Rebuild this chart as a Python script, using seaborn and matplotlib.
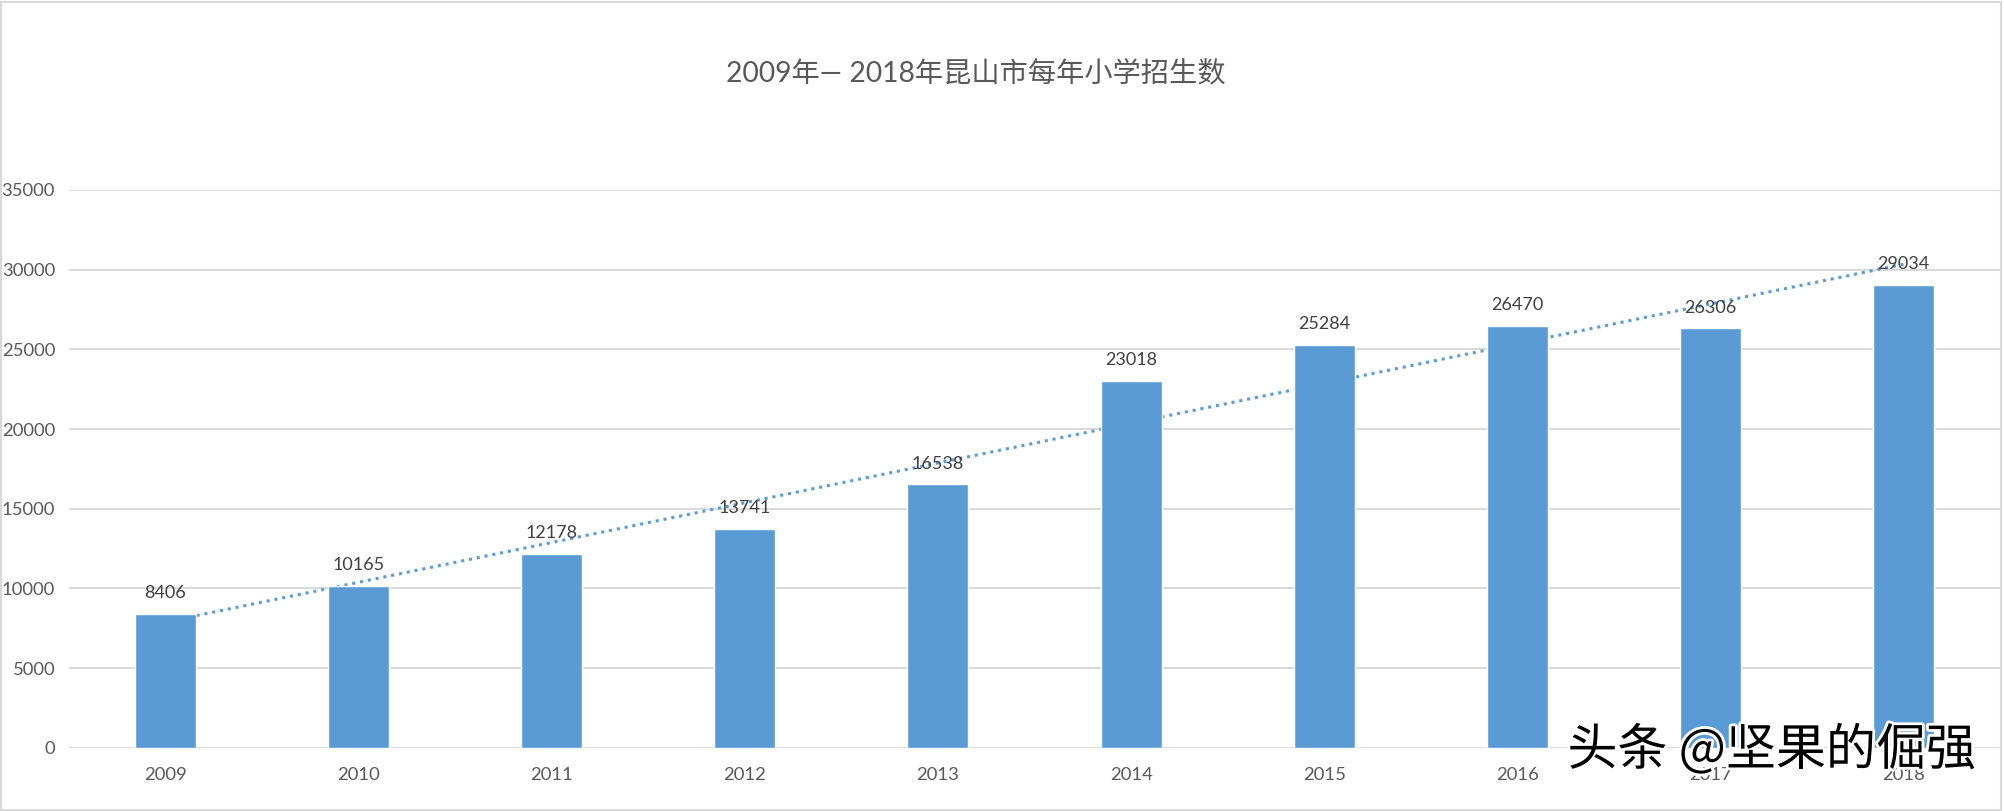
import numpy as np
import pandas as pd
import matplotlib
matplotlib.use("Agg")
import matplotlib.pyplot as plt
import matplotlib.patheffects as pe
from matplotlib.patches import Rectangle
import seaborn as sns

# data
years = ["2009", "2010", "2011", "2012", "2013", "2014", "2015", "2016", "2017", "2018"]
enrolment = [8406, 10165, 12178, 13741, 16538, 23018, 25284, 26470, 26306, 29034]
y_ticks = [0, 5000, 10000, 15000, 20000, 25000, 30000, 35000]

title = "2009年— 2018年昆山市每年小学招生数"
watermark = "头条 @坚果的倔强"

bar_color = "#5B9BD5"
grid_color = "#D9D9D9"

sns.set_theme(style="white")
plt.rcParams["font.family"] = ["Lato", "Noto Sans CJK SC", "DejaVu Sans"]

df = pd.DataFrame({"year": years, "count": enrolment})

fig = plt.figure(figsize=(20.04, 8.11), dpi=100)
ax = fig.add_axes([0.0344, 0.0777, 0.9636, 0.6883])

sns.barplot(data=df, x="year", y="count", color=bar_color, saturation=1,
            width=0.316, ax=ax, zorder=2)

# linear trendline (Excel style), drawn behind the bars
xs = np.arange(len(years))
slope, intercept = np.polyfit(xs, enrolment, 1)
ax.plot(xs, slope * xs + intercept, linestyle=(0, (1, 1.6)), color=bar_color,
        linewidth=2.2, zorder=1.5)

# data labels
for i, v in enumerate(enrolment):
    ax.annotate(str(v), (i, v), xytext=(0, 9), textcoords="offset points",
                ha="center", va="bottom", fontsize=13, color="#404040", zorder=4)

ax.set_ylim(0, 35000)
ax.set_xlim(-0.5, len(years) - 0.5)
ax.set_yticks(y_ticks)
ax.set_xlabel("")
ax.set_ylabel("")
ax.yaxis.grid(True, color=grid_color, linewidth=1.4)
ax.xaxis.grid(False)
ax.set_axisbelow(True)
for s in ax.spines.values():
    s.set_visible(False)
ax.tick_params(axis="both", length=0, labelsize=13.3, colors="#595959")
ax.tick_params(axis="y", pad=10)
ax.tick_params(axis="x", pad=14)

fig.text(0.487, 0.91, title, ha="center", va="center", fontsize=20.3,
         color="#595959", family=["Lato", "Noto Sans CJK SC"])

# watermark
fig.text(0.986, 0.074, watermark, ha="right", va="center", fontsize=36,
         fontweight="medium", color="black", family=["Noto Sans CJK SC", "DejaVu Sans"],
         path_effects=[pe.withStroke(linewidth=4, foreground="white")], zorder=10)

# chart area border
fig.patches.append(Rectangle((0.0005, 0.001), 0.998, 0.997, transform=fig.transFigure,
                             fill=False, edgecolor=grid_color, linewidth=1.5))

fig.savefig("out.png", dpi=100)
